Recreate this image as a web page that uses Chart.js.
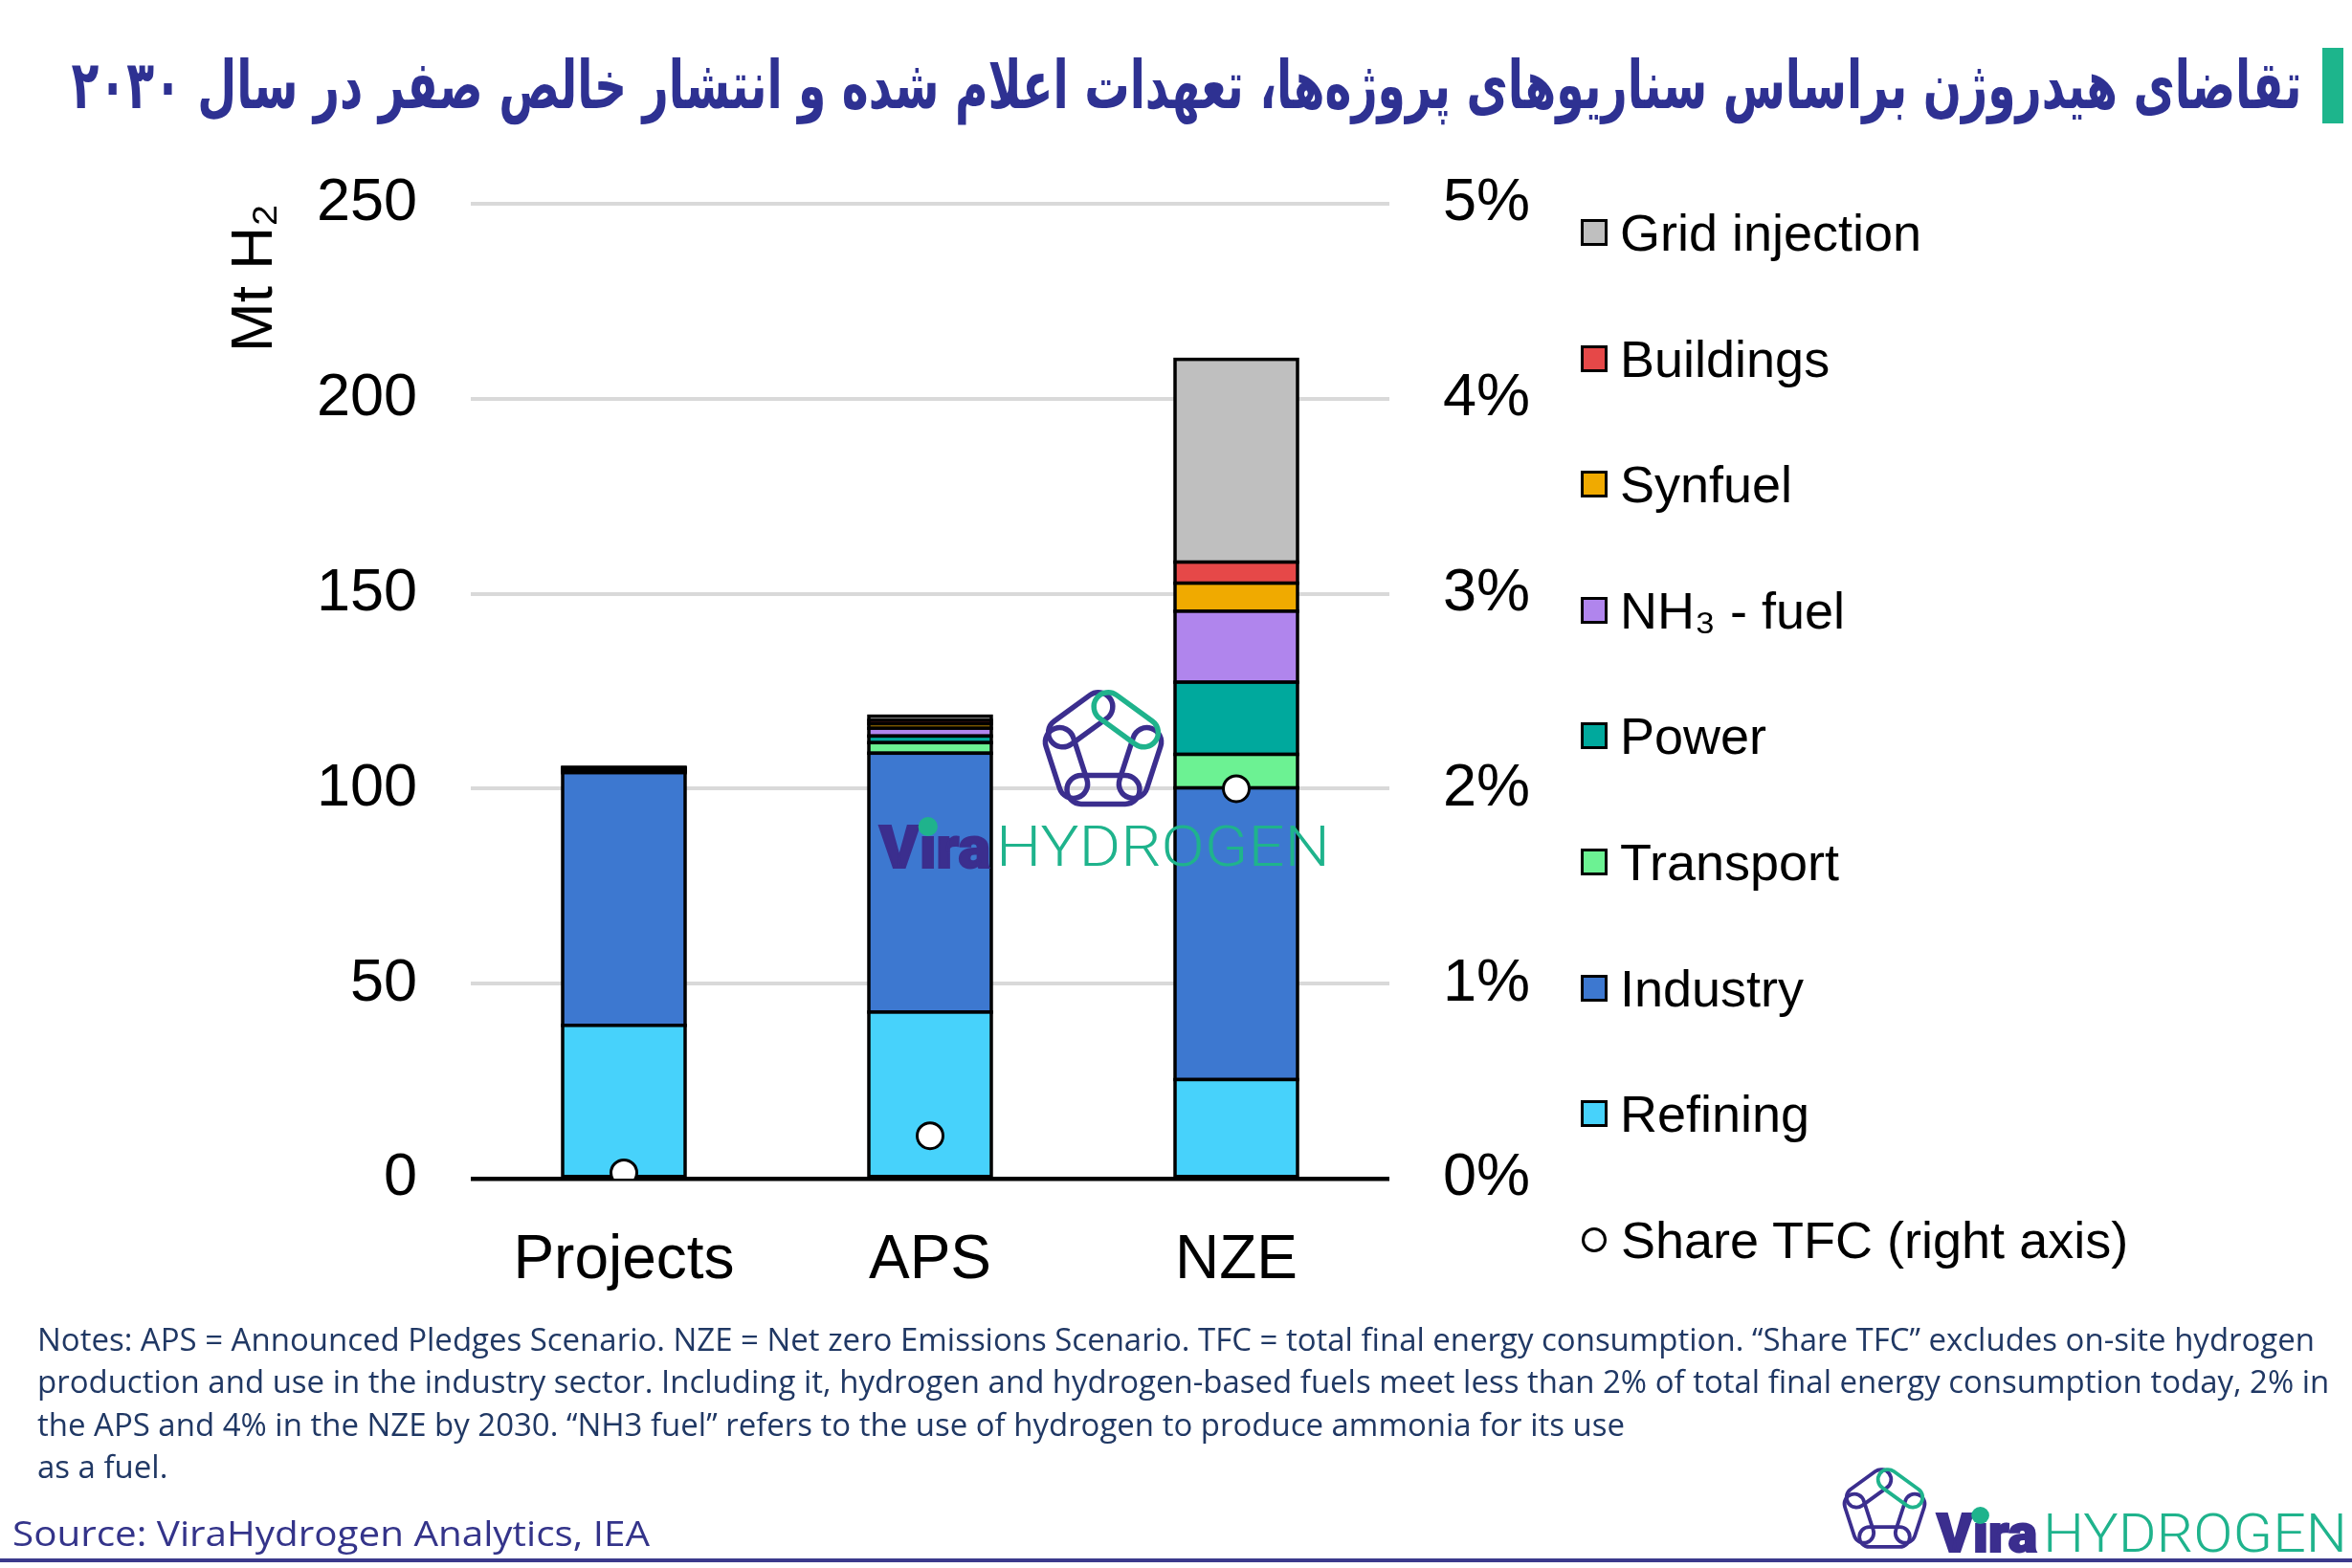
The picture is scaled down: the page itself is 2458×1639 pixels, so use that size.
<!DOCTYPE html>
<html>
<head>
<meta charset="utf-8">
<script src="https://cdn.jsdelivr.net/npm/chart.js@4.4.1/dist/chart.umd.min.js"></script>
<style>
html,body{margin:0;padding:0;background:#fff;}
body{width:2458px;height:1639px;position:relative;overflow:hidden;font-family:"Liberation Sans",Arial,sans-serif;}
#wrap{position:absolute;left:0;top:0;width:2458px;height:1639px;}
canvas{display:block;}
.abs{position:absolute;white-space:nowrap;}
#title{right:52px;top:54px;font-family:"DejaVu Sans",sans-serif;font-weight:bold;font-size:70px;line-height:1;color:#2e3192;direction:rtl;display:inline-block;}
#gbar{left:2427px;top:50px;width:22px;height:79px;background:#1db58c;}
.note{left:39px;font-family:"Open Sans",sans-serif;font-size:33px;line-height:44.5px;color:#203864;display:inline-block;transform-origin:left center;}
#source{left:13px;top:1578px;font-family:"Open Sans",sans-serif;font-size:37px;line-height:48px;color:#34348a;display:inline-block;transform-origin:left center;}
#bline{left:0;top:1629px;width:2458px;height:4px;background:#3b3a8c;}
.leg{left:1652px;height:70px;display:flex;align-items:center;font-size:54px;color:#000;}
.sw{width:28px;height:28px;box-sizing:border-box;border:3px solid #000;margin-right:13px;flex:none;}
.circ{width:26px;height:26px;box-sizing:border-box;border:3px solid #000;border-radius:50%;background:#fff;margin-right:15px;margin-left:1px;flex:none;}
.vira{font-family:Roboto,"Open Sans",sans-serif;font-weight:900;color:#3b2e8e;line-height:1;display:inline-block;transform-origin:left center;-webkit-text-stroke:2px #3b2e8e;}
.vira .i{position:relative;}
.vira .dot{position:absolute;left:50%;border-radius:50%;background:#1fb38c;transform:translateX(-50%);}
.hyd{font-family:Roboto,Lato,sans-serif;font-weight:300;color:#1fb38c;line-height:1;display:inline-block;transform-origin:left center;}
</style>
</head>
<body>
<div id="wrap"><canvas id="c" width="2458" height="1639"></canvas></div>

<div id="gbar" class="abs"></div>
<div id="title" class="abs">تقاضای هیدروژن براساس سناریوهای پروژه‌ها، تعهدات اعلام شده و انتشار خالص صفر در سال ۲۰۳۰</div>

<div id="legend"></div>

<svg id="logo1" class="abs" style="left:1083px;top:715px;" width="140" height="140" viewBox="-70 -70 140 140"></svg>
<div class="abs vira" id="vira1" style="left:919px;top:855px;font-size:62px;">V<span class="i">ı<span class="dot" style="top:5px;width:20px;height:20px;"></span></span>ra</div>
<div class="abs hyd" id="hyd1" style="left:1041px;top:855px;font-size:59px;">HYDROGEN</div>

<div class="note abs" id="n1" style="top:1378px;">Notes: APS = Announced Pledges Scenario. NZE = Net zero Emissions Scenario. TFC = total final energy consumption. “Share TFC” excludes on-site hydrogen</div>
<div class="note abs" id="n2" style="top:1422px;">production and use in the industry sector. Including it, hydrogen and hydrogen-based fuels meet less than 2% of total final energy consumption today, 2% in</div>
<div class="note abs" id="n3" style="top:1467px;">the APS and 4% in the NZE by 2030. “NH3 fuel” refers to the use of hydrogen to produce ammonia for its use</div>
<div class="note abs" id="n4" style="top:1511px;">as a fuel.</div>

<div id="source" class="abs">Source: ViraHydrogen Analytics, IEA</div>

<svg id="logo2" class="abs" style="left:1921px;top:1530px;" width="97" height="97" viewBox="-70 -70 140 140"></svg>
<div class="abs vira" id="vira2" style="left:2024px;top:1576px;font-size:55px;">V<span class="i">ı<span class="dot" style="top:4px;width:18px;height:18px;"></span></span>ra</div>
<div class="abs hyd" id="hyd2" style="left:2135px;top:1576px;font-size:55px;">HYDROGEN</div>
<div id="bline" class="abs"></div>

<script>
// ---------------- data ----------------
const categories = ['Projects', 'APS', 'NZE'];
const refining      = [39.3, 42.7, 25.4];
const industry      = [64.8, 66.4, 74.8];
const transport     = [0.3, 2.7, 8.6];
const power         = [0.3, 1.7, 18.5];
const nh3Fuel       = [0.3, 2.0, 18.2];
const synfuel       = [0.2, 1.1, 7.2];
const buildings     = [0.1, 0.9, 5.4];
const gridInjection = [0.2, 1.1, 52.0];
const shareTFC      = [0.03, 0.22, 2.0];   // % of TFC, right axis

const seriesNames  = ['Refining', 'Industry', 'Transport', 'Power', 'NH₃ - fuel', 'Synfuel', 'Buildings', 'Grid injection'];
const seriesValues = [refining, industry, transport, power, nh3Fuel, synfuel, buildings, gridInjection];
const seriesColors = ['#47d2fb', '#3d78d0', '#6cf293', '#00a99d', '#b085ed', '#f0aa00', '#e64848', '#bfbfbf'];
const shareLabel   = 'Share TFC (right axis)';

const leftAxisTitle = 'Mt H₂';
const leftMax = 250, leftStep = 50;
const rightMax = 5, rightStep = 1;

// ---------------- chart ----------------
const FONT = '"Liberation Sans", Arial, sans-serif';

const outlinePlugin = {
  id: 'outline',
  afterDatasetDraw(chart, args) {
    const meta = args.meta;
    if (meta.type !== 'bar') return;
    const ctx = chart.ctx;
    ctx.save();
    ctx.strokeStyle = '#000';
    ctx.lineWidth = 3.5;
    meta.data.forEach((el, i) => {
      const v = chart.data.datasets[args.index].data[i];
      if (v == null) return;
      const p = el.getProps(['x', 'y', 'base', 'width'], true);
      const l = p.x - p.width / 2, t = Math.min(p.y, p.base), h = Math.abs(p.base - p.y);
      ctx.strokeRect(l, t, p.width, h);
    });
    ctx.restore();
  }
};

const datasets = [{
  type: 'line',
  label: shareLabel,
  data: shareTFC,
  yAxisID: 'y1',
  showLine: false,
  pointRadius: 13.5,
  pointBorderWidth: 3,
  pointBackgroundColor: '#fff',
  pointBorderColor: '#000',
  order: 0
}];
seriesNames.forEach((name, k) => {
  datasets.push({
    type: 'bar',
    label: name,
    data: seriesValues[k],
    backgroundColor: seriesColors[k],
    borderWidth: 0,
    yAxisID: 'y',
    stack: 's',
    order: 1,
    categoryPercentage: 1,
    barPercentage: 0.4
  });
});

new Chart(document.getElementById('c'), {
  type: 'bar',
  data: { labels: categories, datasets },
  options: {
    responsive: false,
    devicePixelRatio: 1,
    animation: false,
    events: [],
    layout: { padding: { left: 230, right: 846, top: 213, bottom: 257 } },
    plugins: { legend: { display: false }, tooltip: { enabled: false } },
    scales: {
      x: {
        stacked: true,
        grid: { display: false, drawTicks: false },
        border: { display: false },
        ticks: { color: '#000', font: { family: FONT, size: 64 }, padding: 48 },
        afterFit(s) { s.height = 150; }
      },
      y: {
        stacked: true,
        position: 'left',
        min: 0, max: leftMax,
        ticks: { stepSize: leftStep, color: '#000', font: { family: FONT, size: 63 }, padding: 56 },
        grid: {
          drawTicks: false,
          color: c => (c.tick && c.tick.value === 0) ? '#000' : '#d9d9d9',
          lineWidth: c => (c.tick && c.tick.value === 0) ? 4.5 : 4
        },
        border: { display: false },
        title: { display: true, text: leftAxisTitle, align: 'end', color: '#000', font: { family: FONT, size: 62 }, padding: 0 },
        afterFit(s) { s.width = 262; }
      },
      y1: {
        position: 'right',
        min: 0, max: rightMax,
        ticks: { stepSize: rightStep, color: '#000', font: { family: FONT, size: 63 }, padding: 56, callback: v => v + '%' },
        grid: { display: false, drawTicks: false },
        border: { display: false },
        afterFit(s) { s.width = 160; }
      }
    }
  },
  plugins: [outlinePlugin]
});

// ---------------- legend (built from the series arrays) ----------------
const legend = document.getElementById('legend');
const legItems = seriesNames.map((n, k) => ({ name: n, color: seriesColors[k] })).reverse();
legItems.push({ name: shareLabel, color: null });
legItems.forEach((it, i) => {
  const d = document.createElement('div');
  d.className = 'leg abs';
  d.style.top = (243 + i * 131.6 - 35) + 'px';
  const m = document.createElement('div');
  if (it.color) { m.className = 'sw'; m.style.background = it.color; }
  else { m.className = 'circ'; }
  d.appendChild(m);
  const t = document.createElement('span');
  t.textContent = it.name;
  d.appendChild(t);
  legend.appendChild(d);
});

// ---------------- logos ----------------
function drawLogo(svg) {
  const ns = 'http://www.w3.org/2000/svg';
  const R = 50;
  const v = [];
  for (let k = 0; k < 5; k++) {
    const a = (-90 + 72 * k) * Math.PI / 180;
    v.push([R * Math.cos(a), R * Math.sin(a)]);
  }
  const order = [1, 2, 3, 4, 0];
  order.forEach(k => {
    const p = v[k], q = v[(k + 1) % 5];
    const mx = (p[0] + q[0]) / 2, my = (p[1] + q[1]) / 2;
    const ang = Math.atan2(q[1] - p[1], q[0] - p[0]) * 180 / Math.PI;
    const r = document.createElementNS(ns, 'rect');
    r.setAttribute('x', -38); r.setAttribute('y', -15);
    r.setAttribute('width', 76); r.setAttribute('height', 30);
    r.setAttribute('rx', 15); r.setAttribute('ry', 15);
    r.setAttribute('fill', 'none');
    r.setAttribute('stroke', k === 0 ? '#1fb38c' : '#3b2e8e');
    r.setAttribute('stroke-width', 5.5);
    r.setAttribute('transform', `translate(${mx},${my}) rotate(${ang})`);
    svg.appendChild(r);
  });
}
drawLogo(document.getElementById('logo1'));
drawLogo(document.getElementById('logo2'));

// ---------------- text fitting ----------------
function fit() {
  const t = document.getElementById('title');
  t.style.transform = 'none';
  t.style.transformOrigin = 'right center';
  t.style.transform = `scaleX(${2331 / t.getBoundingClientRect().width})`;

  const n1 = document.getElementById('n1');
  ['n1','n2','n3','n4'].forEach(id => document.getElementById(id).style.transform = 'none');
  const s = 2380 / n1.getBoundingClientRect().width;
  ['n1','n2','n3','n4'].forEach(id => document.getElementById(id).style.transform = `scaleX(${s})`);

  const fits = [['source', 666], ['vira1', 116], ['hyd1', 349], ['vira2', 105], ['hyd2', 318]];
  fits.forEach(([id, w]) => {
    const e = document.getElementById(id);
    e.style.transform = 'none';
    e.style.transform = `scaleX(${w / e.getBoundingClientRect().width})`;
  });
}
fit();
if (document.fonts && document.fonts.ready) document.fonts.ready.then(fit);
</script>
</body>
</html>
